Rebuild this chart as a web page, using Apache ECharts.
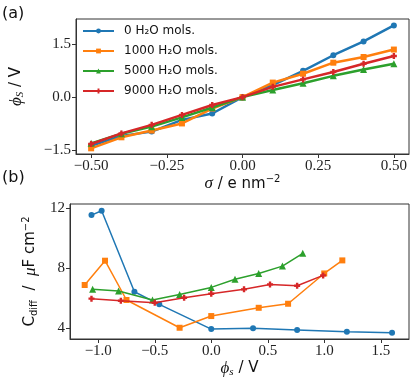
<!DOCTYPE html>
<html>
<head>
<meta charset="utf-8">
<script src="https://cdn.jsdelivr.net/npm/echarts@6/dist/echarts.min.js"></script>
<style>
  html, body { margin: 0; padding: 0; background: #fff; }
  #chart { width: 416px; height: 386px; }
</style>
</head>
<body>
<div id="chart"></div>
<script>
// panel (a): surface potential vs surface charge
var sigma = [-0.5, -0.4, -0.3, -0.2, -0.1, 0, 0.1, 0.2, 0.3, 0.4, 0.5];
var phi0 = [-1.37, -1.09, -0.97, -0.64, -0.46, 0, 0.34, 0.74, 1.18, 1.57, 2.02];
var phi1000 = [-1.44, -1.13, -0.94, -0.74, -0.32, 0, 0.41, 0.66, 0.97, 1.13, 1.34];
var phi5000 = [-1.30, -1.03, -0.83, -0.57, -0.29, 0, 0.20, 0.39, 0.60, 0.78, 0.94];
var phi9000 = [-1.32, -1.02, -0.78, -0.50, -0.22, 0, 0.29, 0.50, 0.71, 0.94, 1.16];

// panel (b): differential capacitance vs potential
var cx0 = [-1.06, -0.97, -0.68, -0.46, 0.0, 0.37, 0.76, 1.20, 1.60];
var cy0 = [11.53, 11.82, 6.42, 5.58, 3.93, 3.98, 3.87, 3.75, 3.69];
var cx1000 = [-1.12, -0.94, -0.75, -0.28, 0.0, 0.42, 0.68, 1.0, 1.16];
var cy1000 = [6.87, 8.49, 5.87, 4.02, 4.8, 5.35, 5.62, 7.64, 8.51];
var cx5000 = [-1.05, -0.82, -0.52, -0.28, 0.0, 0.21, 0.42, 0.63, 0.81];
var cy5000 = [6.58, 6.47, 5.87, 6.24, 6.71, 7.25, 7.64, 8.13, 8.98];
var cx9000 = [-1.06, -0.80, -0.50, -0.24, 0.0, 0.29, 0.52, 0.76, 0.99];
var cy9000 = [5.96, 5.82, 5.69, 6.02, 6.29, 6.58, 6.91, 6.82, 7.51];

var names = ['0 H₂O mols.', '1000 H₂O mols.', '5000 H₂O mols.', '9000 H₂O mols.'];
var colors = ['#1f77b4', '#ff7f0e', '#2ca02c', '#d62728'];
var plus = 'path://M3,0H7V3H10V7H7V10H3V7H0V3H3Z';
var symbols = ['circle', 'rect', 'triangle', plus];

var xTicksA = [-0.5, -0.25, 0, 0.25, 0.5];
var yTicksA = [-1.5, 0, 1.5];
var xTicksB = [-1.0, -0.5, 0, 0.5, 1.0, 1.5];
var yTicksB = [4, 8, 12];

function zip(a, b) {
  return a.map(function (v, i) { return [v, b[i]]; });
}
function fmt(d) {
  return function (v) {
    var s = Math.abs(v).toFixed(d);
    return (v < 0 ? '−' : '') + s;
  };
}

var serif = 'Liberation Serif';
var sans = 'DejaVu Sans';
var nameRich = {
  m: { fontFamily: serif, fontStyle: 'italic', fontSize: 17, color: '#111' },
  s: { fontFamily: sans, fontSize: 15, color: '#111' },
  sub: { fontFamily: serif, fontStyle: 'italic', fontSize: 11, color: '#111', verticalAlign: 'bottom', padding: [8, 0, 0, 0] },
  subs: { fontFamily: sans, fontSize: 10, color: '#111', verticalAlign: 'bottom', padding: [8, 0, 0, 0] },
  sup: { fontFamily: sans, fontSize: 10, color: '#111', verticalAlign: 'top', padding: [0, 0, 8, 0] }
};

function axis(idx, min, max, ticks, dec, name, gap, isY) {
  return {
    type: 'value',
    gridIndex: idx,
    min: min,
    max: max,
    name: name,
    nameLocation: 'middle',
    nameGap: gap,
    nameRotate: isY ? 90 : 0,
    nameTextStyle: { rich: nameRich },
    splitLine: { show: false },
    axisLine: { show: true, onZero: false, lineStyle: { color: '#333', width: 1 } },
    axisTick: { show: true, inside: false, length: 4, customValues: ticks, lineStyle: { color: '#333' } },
    axisLabel: {
      customValues: ticks,
      formatter: fmt(dec),
      fontFamily: serif,
      fontSize: 15,
      color: '#222',
      margin: 5
    }
  };
}

var series = [];
var topData = [phi0, phi1000, phi5000, phi9000];
var botX = [cx0, cx1000, cx5000, cx9000];
var botY = [cy0, cy1000, cy5000, cy9000];
for (var i = 0; i < 4; i++) {
  series.push({
    name: names[i], type: 'line', xAxisIndex: 0, yAxisIndex: 0,
    data: zip(sigma, topData[i]),
    symbol: symbols[i], symbolSize: i === 2 ? 7 : 6,
    lineStyle: { width: 2.5, color: colors[i] },
    itemStyle: { color: colors[i] },
    z: 2 + i
  });
  series.push({
    name: names[i], type: 'line', xAxisIndex: 1, yAxisIndex: 1,
    data: zip(botX[i], botY[i]),
    symbol: symbols[i], symbolSize: i === 2 ? 7 : 6,
    lineStyle: { width: 1.5, color: colors[i] },
    itemStyle: { color: colors[i] },
    z: 2 + i
  });
}

var chart = echarts.init(document.getElementById('chart'), null, { renderer: 'canvas' });
chart.setOption({
  animation: false,
  backgroundColor: '#fff',
  grid: [
    { left: 70, top: 19, width: 339, height: 135, show: true, borderColor: '#333', borderWidth: 1 },
    { left: 70, top: 204, width: 339, height: 135, show: true, borderColor: '#333', borderWidth: 1 }
  ],
  legend: {
    data: names,
    orient: 'vertical',
    left: 77,
    top: 22,
    itemWidth: 31,
    itemHeight: 6,
    itemGap: 6,
    padding: [2, 5],
    borderWidth: 0,
    backgroundColor: 'rgba(255,255,255,0.8)',
    textStyle: { fontFamily: sans, fontSize: 12, lineHeight: 14, color: '#111', padding: [0, 0, 0, 5] }
  },
  xAxis: [
    axis(0, -0.55, 0.55, xTicksA, 2, '{m|σ}{s| / e nm}{sup|−2}', 20, false),
    axis(1, -1.25, 1.75, xTicksB, 1, '{m|ϕ}{sub|s}{s| / V}', 20, false)
  ],
  yAxis: [
    axis(0, -1.6, 2.2, yTicksA, 1, '{m|ϕ}{sub|S}{s| / V}', 50, true),
    axis(1, 3.27, 12.27, yTicksB, 0, '{s|C}{subs|diff}{s|  /  }{m|μ}{s|F cm}{sup|−2}', 22, true)
  ],
  graphic: [
    { type: 'text', left: 2, top: 6, style: { text: '(a)', fontFamily: sans, fontSize: 16, fill: '#111' } },
    { type: 'text', left: 2, top: 170, style: { text: '(b)', fontFamily: sans, fontSize: 16, fill: '#111' } }
  ],
  series: series
});
</script>
</body>
</html>
